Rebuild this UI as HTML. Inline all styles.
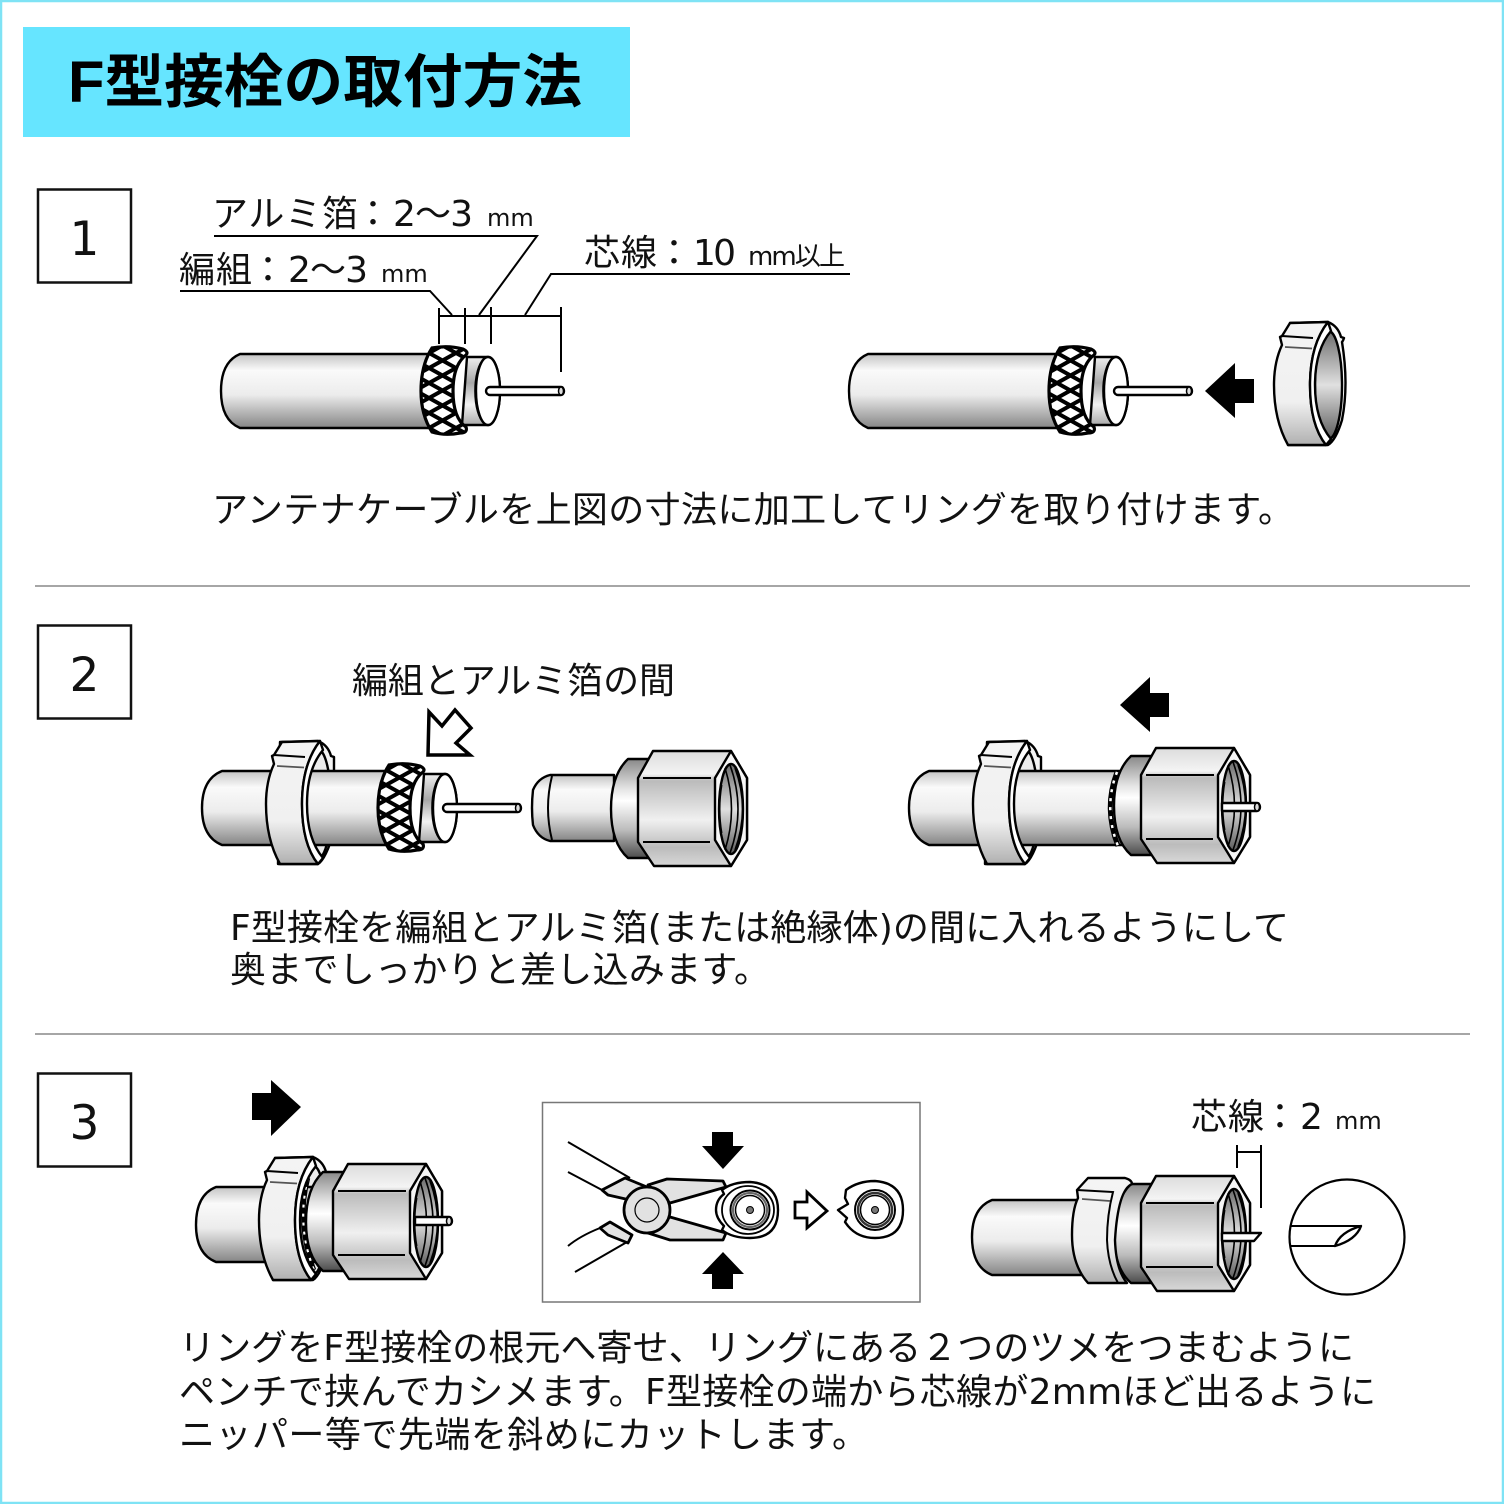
<!DOCTYPE html>
<html lang="ja"><head><meta charset="utf-8"><title>F型接栓の取付方法</title>
<style>
html,body{margin:0;padding:0;background:#fff}
svg{display:block}
text{font-family:"DejaVu Sans","Noto Sans CJK JP",sans-serif;fill:#111;font-size:36px}
.s{fill:none;stroke:#000;stroke-width:2}
.o{stroke:#000;stroke-width:2.4;stroke-linejoin:round}
.m{font-size:24px}
</style></head><body>
<svg width="1504" height="1504" viewBox="0 0 1504 1504" xmlns="http://www.w3.org/2000/svg">
<defs>
<linearGradient id="jk" x1="0" y1="0" x2="0" y2="1"><stop offset="0" stop-color="#c4c4c4"/><stop offset=".22" stop-color="#fafafa"/><stop offset=".55" stop-color="#ececec"/><stop offset="1" stop-color="#858585"/></linearGradient>
<linearGradient id="fo" x1="0" y1="0" x2="0" y2="1"><stop offset="0" stop-color="#eee"/><stop offset=".38" stop-color="#a8a8a8"/><stop offset=".7" stop-color="#f2f2f2"/><stop offset="1" stop-color="#aaa"/></linearGradient>
<linearGradient id="nt" x1="0" y1="0" x2="0" y2="1"><stop offset="0" stop-color="#dcdcdc"/><stop offset=".2" stop-color="#f4f4f4"/><stop offset=".26" stop-color="#bbb"/><stop offset=".6" stop-color="#f0f0f0"/><stop offset=".84" stop-color="#bcbcbc"/><stop offset="1" stop-color="#d8d8d8"/></linearGradient>
<linearGradient id="co" x1="0" y1="0" x2="0" y2="1"><stop offset="0" stop-color="#888"/><stop offset=".3" stop-color="#e4e4e4"/><stop offset=".42" stop-color="#fff"/><stop offset=".72" stop-color="#bbb"/><stop offset="1" stop-color="#4c4c4c"/></linearGradient>
<linearGradient id="ho" x1="0" y1="0" x2="0" y2="1"><stop offset="0" stop-color="#6c6c6c"/><stop offset=".5" stop-color="#e0e0e0"/><stop offset="1" stop-color="#5c5c5c"/></linearGradient>
<linearGradient id="rg" x1="0" y1="0" x2="0" y2="1"><stop offset="0" stop-color="#f4f4f4"/><stop offset=".65" stop-color="#f0f0f0"/><stop offset="1" stop-color="#b0b0b0"/></linearGradient>
<pattern id="mesh" patternUnits="userSpaceOnUse" width="27" height="15" x="429" y="338">
<rect width="27" height="15" fill="#fff"/>
<path d="M-13.500 -7.500L40.500 22.500M40.500 -7.500L-13.500 22.500" stroke="#000" stroke-width="4"/>
</pattern>

<g id="end">
 <path d="M467 357L488 357A12 34 0 0 1 488 425L462 425Z" fill="url(#fo)" class="o"/>
 <path d="M432 348Q448 345 463 349Q469 352 466 355Q453 365 453 391Q453 418 466 427Q468 433 460 433Q445 436 432 432Q421 415 421 391Q421 365 432 348Z" fill="url(#mesh)" stroke="#000" stroke-width="3.200"/>
 <ellipse cx="488" cy="391" rx="12" ry="34" fill="#fff" class="o"/>
 <path d="M484 359A12 33 0 0 0 484 423" fill="none" stroke="#000" stroke-width="1.500"/>
 <path d="M490 387L561 387A3 4 0 0 1 561 395L490 395A4 4 0 0 1 490 387Z" fill="#fff" class="o"/>
 <ellipse cx="561" cy="391" rx="2.500" ry="4" fill="#ddd" stroke="#000" stroke-width="1.500"/>
</g>

<g id="connut">
 <path d="M652 759L628 759Q611 775 611 809Q611 843 628 858L652 858Z" fill="url(#co)" class="o"/>
 <path d="M653 751L731 751L747 778L747 840L731 866L654 866L638 842L638 778Z" fill="url(#nt)" class="o"/>
 <path d="M643 778H711M643 842H710" class="s"/>
 <path d="M731 751L747 778L747 840L731 866L715 840L715 778Z" fill="#f6f6f6" class="o"/>
 <ellipse cx="731" cy="809" rx="12" ry="45" fill="url(#ho)" class="o"/>
 <path d="M725 768Q738 809 725 850M730 765Q746 809 730 853M735 768Q750 809 735 850" fill="none" stroke="#000" stroke-width="1.600"/>
 <path d="M722 785Q718 809 722 833" fill="none" stroke="#000" stroke-width="1"/>
</g>

<g id="ringb">
 <path d="M1290 323L1328 322Q1338 326 1341 337L1344 338Q1343 341 1342 342Q1349 385 1342 420Q1336 440 1328 445L1288 445Z" fill="#f8f8f8" class="o"/>
 <ellipse cx="1328.500" cy="385" rx="13.500" ry="54" fill="url(#ho)" class="o"/>
</g>
<g id="ringb2">
 <path d="M1290 323L1328 322Q1338 326 1341 337L1344 338L1344 360L1344 412Q1336 440 1328 445L1288 445Z" fill="#f4f4f4" class="o"/>
 <ellipse cx="1328.500" cy="385" rx="12.500" ry="54" fill="#ececec" class="o"/>
</g>
<g id="ringf">
 <path d="M1290 323L1328 322Q1310 345 1310 385Q1310 425 1326 445L1288 445Q1274 420 1274 385Q1274 362 1282 345L1280 337L1282 336Z" fill="url(#rg)" class="o"/>
 <path d="M1328 322Q1310 345 1310 385Q1310 425 1326 445L1331 439Q1315 420 1315 385Q1315 350 1331 331Z" fill="#fff" class="o" stroke-width="2"/>
 <path d="M1282 336L1313 338" class="s"/>
 <path d="M1285 347L1312 348.500" fill="none" stroke="#555" stroke-width="1.800"/>
</g>
<path id="ba" d="M1205 391L1235 363L1235 379L1254 379L1254 403L1235 403L1235 418Z" fill="#000"/>
</defs>

<rect width="1504" height="1504" fill="#fff"/>
<rect x="1" y="1" width="1502" height="1502" fill="none" stroke="#7fe3f5" stroke-width="2.500"/>
<rect x="23" y="27" width="607" height="110" fill="#66e5ff"/>
<text x="68" y="102" textLength="514" lengthAdjust="spacingAndGlyphs" style="font-size:58px;font-weight:700;font-family:'Liberation Sans','Noto Sans CJK JP',sans-serif;fill:#000">F型接栓の取付方法</text>

<g fill="#fff" stroke="#111" stroke-width="2.500">
<rect x="38" y="189.500" width="93" height="93"/>
<rect x="38" y="625.500" width="93" height="93"/>
<rect x="38" y="1073.500" width="93" height="93"/>
</g>
<text x="84.500" y="255" text-anchor="middle" style="font-size:47px">1</text>
<text x="84.500" y="691" text-anchor="middle" style="font-size:47px">2</text>
<text x="84.500" y="1139" text-anchor="middle" style="font-size:47px">3</text>

<path d="M35 586H1470M35 1034H1470" stroke="#888" stroke-width="1.600"/>

<!-- STEP 1 -->
<text x="212" y="226" textLength="146">アルミ箔</text>
<text x="355" y="226">：</text>
<text x="393" y="226" textLength="80">2〜3</text>
<text x="487" y="226" class="m">mm</text>
<text x="179" y="282" textLength="73">編組</text>
<text x="250" y="282">：</text>
<text x="288" y="282" textLength="80">2〜3</text>
<text x="381" y="282" class="m">mm</text>
<text x="584" y="265" textLength="73">芯線</text>
<text x="656" y="265">：</text>
<text x="693" y="265" textLength="43">10</text>
<text x="748" y="265" textLength="97" style="font-size:26px">mm以上</text>
<path d="M214 236H537L479 315M180 291H430L452 315M850 274H551L525 315" class="s"/>
<path d="M439 316H561M439 308V344M465 308V344M491 307V344M561 307V372" class="s"/>
<path d="M240 354H440V428H240Q221 420 221 391Q221 362 240 354Z" fill="url(#jk)" class="o"/>
<use href="#end"/>
<path d="M868 354H1068V428H868Q849 420 849 391Q849 362 868 354Z" fill="url(#jk)" class="o"/>
<g transform="translate(628 0)"><use href="#end"/></g>
<use href="#ba"/>
<use href="#ringb"/><use href="#ringf"/>
<text x="212" y="522" textLength="1082">アンテナケーブルを上図の寸法に加工してリングを取り付けます。</text>

<!-- STEP 2 -->
<text x="352" y="693" textLength="323">編組とアルミ箔の間</text>
<path d="M429 712L442 726L455 710L471 728L456 743L470 755L428 755Z" fill="#fff" stroke="#000" stroke-width="3.500"/>
<g transform="translate(-1010 419)"><use href="#ringb2"/></g>
<path d="M222 771H395V845H222Q202 837 202 808Q202 779 222 771Z" fill="url(#jk)" class="o"/>
<g transform="translate(-43 417)"><use href="#end"/></g>
<g transform="translate(-1008 419)"><use href="#ringf"/></g>
<path d="M550 775H614V841H550Q538 838 533 825Q531 808 533 790Q538 778 550 775Z" fill="url(#jk)" class="o"/>
<path d="M552 776Q544 808 552 840" class="s"/>
<use href="#connut"/>

<use href="#ba" x="-85" y="314"/>
<g transform="translate(-303 419)"><use href="#ringb2"/></g>
<path d="M929 771H1125V845H929Q909 837 909 808Q909 779 929 771Z" fill="url(#jk)" class="o"/>
<path d="M1117 772Q1103 808 1118 846" fill="none" stroke="#000" stroke-width="5"/>
<path d="M1117 772Q1103 808 1118 846" fill="none" stroke="#fff" stroke-width="2.500" stroke-dasharray="3 6"/>
<g transform="translate(-301 419)"><use href="#ringf"/></g>
<g transform="translate(503 -3)"><use href="#connut"/></g>
<path d="M1222 803H1257A3 4 0 0 1 1257 811H1222Z" fill="#fff" class="o" stroke-width="2"/>
<ellipse cx="1257" cy="807" rx="2.500" ry="4" fill="#ddd" stroke="#000" stroke-width="1.500"/>

<text x="230" y="940" textLength="1059">F型接栓を編組とアルミ箔(または絶縁体)の間に入れるようにして</text>
<text x="230" y="982" textLength="540">奥までしっかりと差し込みます。</text>

<!-- STEP 3 -->
<path d="M301 1107L271 1080L271 1093L252 1093L252 1120L271 1120L271 1136Z" fill="#000"/>
<g transform="translate(-1015 835)"><use href="#ringb2"/></g>
<path d="M216 1187H320V1262H216Q196 1254 196 1225Q196 1195 216 1187Z" fill="url(#jk)" class="o"/>
<path d="M308 1178Q296 1225 314 1270" fill="none" stroke="#000" stroke-width="4.500"/>
<path d="M308 1178Q296 1225 314 1270" fill="none" stroke="#fff" stroke-width="2.200" stroke-dasharray="3 6"/>
<g transform="translate(-305 413)"><use href="#connut"/></g>
<g transform="translate(-1015 835)"><use href="#ringf"/></g>
<path d="M415 1217H449A3 4 0 0 1 449 1225H415Z" fill="#fff" class="o" stroke-width="2"/>
<ellipse cx="449" cy="1221" rx="2.500" ry="4" fill="#ddd" stroke="#000" stroke-width="1.500"/>

<!-- pliers -->
<rect x="542.500" y="1102.500" width="377.500" height="199.500" fill="#fff" stroke="#777" stroke-width="1.500"/>
<path d="M702 1146H712V1132H733V1146H744L723 1169ZM702 1274H712V1289H733V1274H744L723 1252Z" fill="#000"/>
<path d="M568 1142L630 1178M568 1172L602 1190M568 1246Q580 1236 600 1228M575 1272L627 1242" class="s"/>
<g fill="#e2e2e2" stroke="#000" stroke-width="2.800" stroke-linejoin="round">
<path d="M602 1190L625 1178L647 1187L630 1200L608 1195Z"/>
<path d="M600 1228L610 1222L632 1235L628 1243L608 1235Z"/>
<path d="M648 1185L667 1179L723 1181L726 1187L670 1203Z"/>
<path d="M648 1233L670 1240L723 1240L726 1233L670 1217Z"/>
<circle cx="647" cy="1210" r="23"/>
</g>
<circle cx="647" cy="1210" r="12" fill="#e2e2e2" stroke="#000" stroke-width="1.200"/>
<path d="M722 1190Q732 1182 750 1182Q778 1184 778 1210Q778 1238 750 1238Q732 1238 722 1230L724 1226Q716 1218 716 1210Q716 1200 724 1194Z" fill="#fff" class="o"/>
<ellipse cx="748" cy="1210" rx="26" ry="24" fill="#fff" stroke="#000" stroke-width="1.800"/>
<circle cx="750" cy="1210" r="19.500" fill="#fff" stroke="#000" stroke-width="2"/>
<circle cx="750" cy="1210" r="17" fill="none" stroke="#666" stroke-width="2.200"/>
<circle cx="750" cy="1210" r="14.500" fill="#fff" stroke="#000" stroke-width="1.500"/>
<circle cx="750" cy="1210" r="3.500" fill="#777" stroke="#000"/>
<path d="M795 1202H807V1192L827 1211L807 1228V1218H795Z" fill="#fff" stroke="#000" stroke-width="2.800"/>
<path d="M846 1190Q858 1181 875 1181Q903 1183 903 1210Q903 1238 875 1238Q858 1238 848 1226L845 1222L847 1218L838 1210L848 1204L845 1198Z" fill="#fff" class="o"/>
<circle cx="875" cy="1210" r="20" fill="#fff" stroke="#000" stroke-width="2"/>
<circle cx="875" cy="1210" r="17" fill="none" stroke="#333" stroke-width="2.500"/>
<circle cx="875" cy="1210" r="14.500" fill="#fff" stroke="#000" stroke-width="1.500"/>
<circle cx="875" cy="1210" r="3.500" fill="#777" stroke="#000"/>

<!-- right of step 3 -->
<text x="1191" y="1129" textLength="73">芯線</text>
<text x="1262" y="1129">：</text>
<text x="1300" y="1129">2</text>
<text x="1335" y="1129" class="m">mm</text>
<path d="M1237 1145V1168M1237 1152H1261M1261 1145V1208" class="s"/>
<path d="M992 1200H1090V1275H992Q972 1267 972 1237Q972 1208 992 1200Z" fill="url(#jk)" class="o"/>
<g transform="translate(503 425)"><use href="#connut"/></g>
<path d="M1088 1178L1125 1178Q1132 1180 1132 1184Q1118 1190 1115 1240Q1116 1270 1127 1283L1088 1283Q1072 1265 1072 1235Q1072 1210 1078 1198L1077 1190Z" fill="url(#rg)" class="o"/>
<path d="M1077 1190L1113 1192Q1107 1215 1107 1240Q1108 1265 1118 1283" class="s"/>
<path d="M1082 1199L1110 1201" fill="none" stroke="#555" stroke-width="1.800"/>
<path d="M1222 1233H1254L1261 1233L1254 1241H1222Z" fill="#fff" class="o" stroke-width="1.800"/>
<circle cx="1347" cy="1237" r="57.500" fill="#fff" stroke="#000" stroke-width="2.200"/>
<path d="M1291 1226H1360M1291 1246H1335" class="s"/>
<path d="M1335 1246Q1340 1232 1361 1226Q1356 1240 1335 1246Z" fill="#fff" class="o"/>

<text x="179" y="1360" textLength="1175">リングをF型接栓の根元へ寄せ、リングにある２つのツメをつまむように</text>
<text x="179" y="1404" textLength="1197">ペンチで挟んでカシメます。F型接栓の端から芯線が2mmほど出るように</text>
<text x="179" y="1447" textLength="689">ニッパー等で先端を斜めにカットします。</text>
</svg>
</body></html>
